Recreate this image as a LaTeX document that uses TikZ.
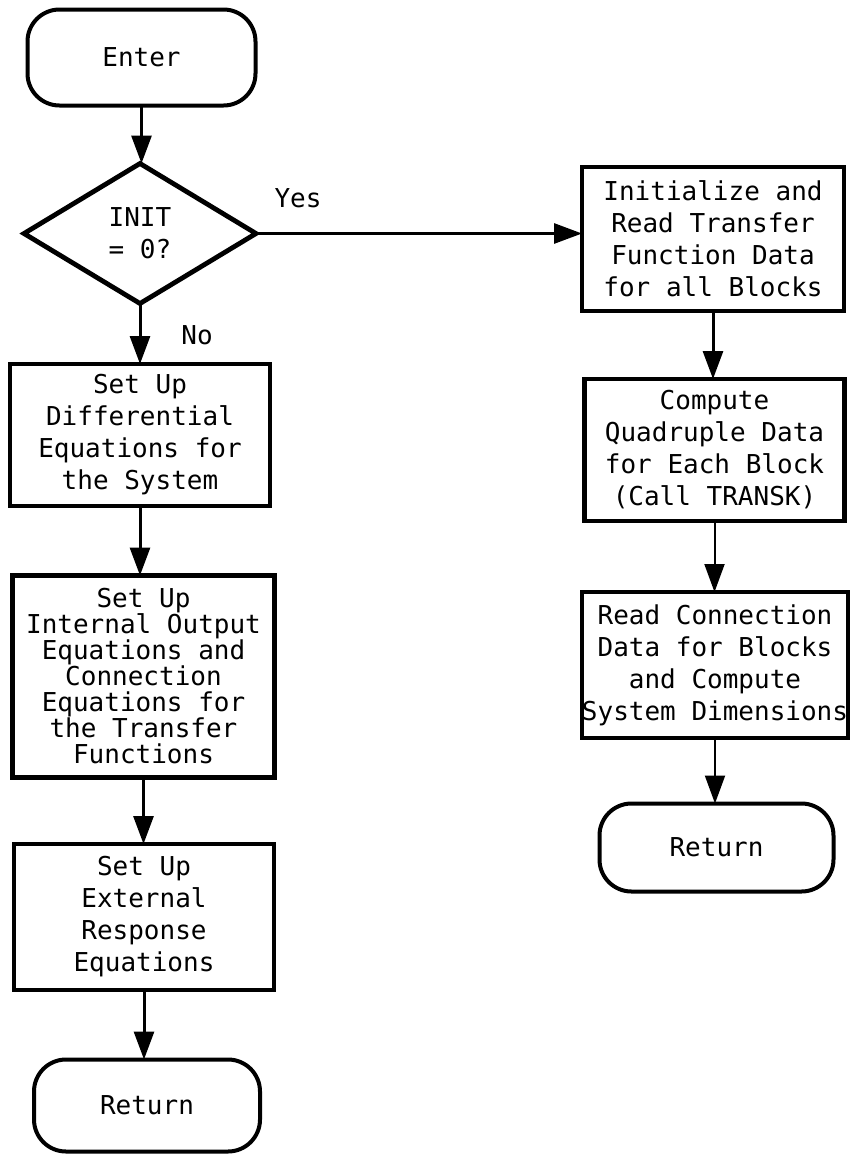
\documentclass[tikz,border=0pt]{standalone}
\usepackage{fontspec}
\setmonofont{DejaVu Sans Mono}
\usetikzlibrary{shapes.geometric,arrows.meta}
\begin{document}
\begin{tikzpicture}[x=0.5pt,y=-0.5pt,
  font=\ttfamily\fontsize{13pt}{16pt}\selectfont,
  every node/.style={inner sep=0pt, outer sep=0pt},
  terminal/.style={draw, line width=2pt, rounded corners=16pt, align=center},
  process/.style={draw, line width=2.4pt, align=center},
  decision/.style={draw, diamond, line width=2.4pt, align=center},
  flow/.style={line width=1.5pt, -{Triangle[length=14pt,width=10pt]}},
  thinflow/.style={flow, line width=1pt},
]
\useasboundingbox (0,0) rectangle (855,1158);

% left column
\node[terminal, minimum width=114pt, minimum height=48pt] (enter) at (141.5,57.5) {Enter};
\node[decision, minimum width=116pt, minimum height=70pt] (init) at (140,233.5) {INIT\\= 0?};
\node[process, minimum width=130pt, minimum height=71pt] (setde) at (140,435)
  {Set Up\\Differential\\Equations for\\the System};
\node[process, minimum width=131pt, minimum height=101pt,
      font=\ttfamily\fontsize{13pt}{13pt}\selectfont] (setio) at (143.5,676.5)
  {Set Up\\Internal Output\\Equations and\\Connection\\Equations for\\the Transfer\\Functions};
\node[process, minimum width=130pt, minimum height=73pt] (setext) at (144,917)
  {Set Up\\External\\Response\\Equations};
\node[terminal, minimum width=113pt, minimum height=46pt] (retl) at (147,1105.5) {Return};

% right column
\node[process, minimum width=131pt, minimum height=72pt] (readtf) at (713,239)
  {Initialize and\\Read Transfer\\Function Data\\for all Blocks};
\node[process, minimum width=130pt, minimum height=71pt] (quad) at (714.5,450)
  {Compute\\Quadruple Data\\for Each Block\\(Call TRANSK)};
\node[process, minimum width=130pt, minimum height=73pt] (conn) at (715,665)
  {Read Connection\\Data for Blocks\\and Compute\\System Dimensions};
\node[terminal, minimum width=117pt, minimum height=44pt] (retr) at (716.5,847.5) {Return};

% branch labels
\node (yes) at (298,198) {Yes};
\node (no) at (197,335) {No};

% connectors
\draw[flow] (enter.south) -- (enter.south |- init.north);
\draw[flow] (init.south) -- (init.south |- setde.north);
\draw[flow] (setde.south) -- (setde.south |- setio.north);
\draw[flow] (setio.south) -- (setio.south |- setext.north);
\draw[flow] (setext.south) -- (setext.south |- retl.north);
\draw[flow] (init.east) -- (init.east -| readtf.west);
\draw[flow] (readtf.south) -- (readtf.south |- quad.north);
\draw[thinflow] (quad.south) -- (quad.south |- conn.north);
\draw[thinflow] (conn.south) -- (conn.south |- retr.north);
\end{tikzpicture}
\end{document}
